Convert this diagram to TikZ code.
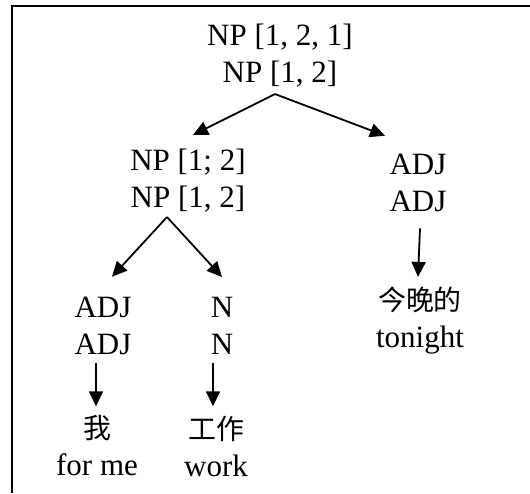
\documentclass[tikz,border=0pt]{standalone}
\usepackage{fontspec}
\setmainfont{Liberation Serif}
\newfontfamily\cjk[Scale=0.9]{Noto Sans CJK SC}
\usetikzlibrary{arrows.meta}
\tikzset{
  lbl/.style={align=center,inner sep=0pt,font=\fontsize{15.5}{18.5}\selectfont},
  arr/.style={line width=0.9pt,-{Triangle[length=7.5pt,width=7pt]}}
}
\begin{document}
\begin{tikzpicture}[x=0.5pt,y=-0.5pt]
    \useasboundingbox (0,0) rectangle (530,493);
    \draw[line width=1pt] (12,493)--(12,5.5)--(530,5.5);
    \node[lbl] (top) at (280,56) {NP [1, 2, 1]\\NP [1, 2]};
    \node[lbl] (np12) at (188,181) {NP [1; 2]\\NP [1, 2]};
    \node[lbl] (adjR) at (418,183) {ADJ\\ADJ};
    \node[lbl] (adjL) at (103,326) {ADJ\\ADJ};
    \node[lbl] (nN) at (222,326) {N\\N};
    \node[lbl] (wo) at (97,446) {{\cjk 我}\\for me};
    \node[lbl] (gz) at (216,446) {{\cjk 工作}\\work};
    \node[lbl] (jw) at (420,321) {{\cjk 今晚的}\\tonight};
    \draw[arr] ([shift={(-5,6)}]top.south)--([shift={(5,-14)}]np12.north);
    \draw[arr] ([shift={(-5,6)}]top.south)--([shift={(-33,-18)}]adjR.north);
    \draw[arr] ([shift={(-21,4)}]np12.south)--([shift={(9,-20)}]adjL.north);
    \draw[arr] ([shift={(-21,4)}]np12.south)--([shift={(0,-20)}]nN.north);
    \draw[arr] ([shift={(-7,8)}]adjL.south)--([shift={(-1,-9)}]wo.north);
    \draw[arr] ([shift={(-9,8)}]nN.south)--([shift={(-3,-9)}]gz.north);
    \draw[arr] ([shift={(2,16)}]adjR.south)--([shift={(-2,-10)}]jw.north);
\end{tikzpicture}
\end{document}
